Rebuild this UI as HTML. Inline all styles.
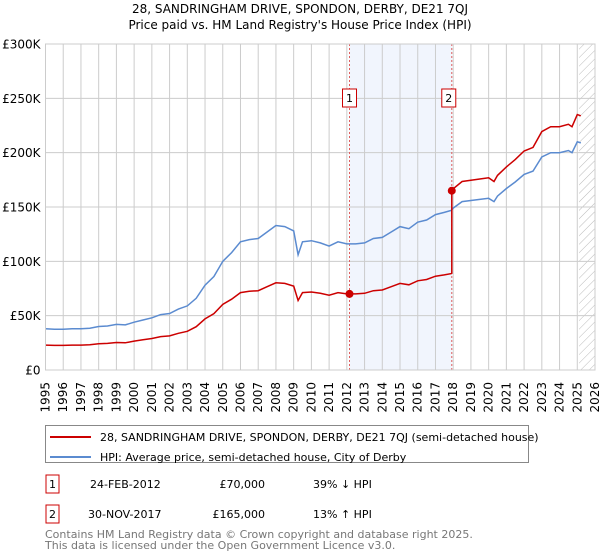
<!DOCTYPE html>
<html><head><meta charset="utf-8"><style>
body{margin:0;width:600px;height:560px;background:#fff;font-family:"DejaVu Sans","Liberation Sans",sans-serif;overflow:hidden}
svg{position:absolute;left:0;top:0}
</style></head><body>
<svg id="c" width="600" height="560">
<defs><pattern id="hatch" width="6" height="6" patternUnits="userSpaceOnUse" patternTransform="rotate(45)"><line x1="0" y1="0" x2="0" y2="6" stroke="#bbb" stroke-width="1"/></pattern></defs>
<text x="300" y="13" text-anchor="middle" font-size="12">28, SANDRINGHAM DRIVE, SPONDON, DERBY, DE21 7QJ</text>
<text x="300" y="29" text-anchor="middle" font-size="12">Price paid vs. HM Land Registry's House Price Index (HPI)</text>
<g id="plot"></g>
<rect x="45.5" y="425.5" width="483" height="37" fill="none" stroke="#888"/>
<line x1="50" y1="437" x2="91" y2="437" stroke="#cc0000" stroke-width="2"/>
<text x="100" y="441" font-size="11">28, SANDRINGHAM DRIVE, SPONDON, DERBY, DE21 7QJ (semi-detached house)</text>
<line x1="50" y1="457" x2="91" y2="457" stroke="#5b8bd0" stroke-width="2"/>
<text x="100" y="461" font-size="11">HPI: Average price, semi-detached house, City of Derby</text>
<g font-size="11">
<rect x="46" y="475" width="13" height="18" fill="none" stroke="#cc0000"/>
<text x="52.5" y="488" text-anchor="middle">1</text>
<text x="90" y="488">24-FEB-2012</text>
<text x="265" y="488" text-anchor="end">£70,000</text>
<text x="313" y="488">39% ↓ HPI</text>
<rect x="46" y="505" width="13" height="18" fill="none" stroke="#cc0000"/>
<text x="52.5" y="518" text-anchor="middle">2</text>
<text x="88" y="518">30-NOV-2017</text>
<text x="265" y="518" text-anchor="end">£165,000</text>
<text x="313" y="518">13% ↑ HPI</text>
</g>
<text x="45" y="538" font-size="11" fill="#777">Contains HM Land Registry data © Crown copyright and database right 2025.</text>
<text x="45" y="549" font-size="11" fill="#777">This data is licensed under the Open Government Licence v3.0.</text>
</svg>
<script>
const hpiYears=[1995,1995.5,1996,1996.5,1997,1997.5,1998,1998.5,1999,1999.5,2000,2000.5,2001,2001.5,2002,2002.5,2003,2003.5,2004,2004.5,2005,2005.5,2006,2006.5,2007,2007.5,2008,2008.5,2009,2009.25,2009.5,2010,2010.5,2011,2011.5,2012,2012.5,2013,2013.5,2014,2014.5,2015,2015.5,2016,2016.5,2017,2017.5,2017.9,2018,2018.5,2019,2019.5,2020,2020.3,2020.5,2021,2021.5,2022,2022.5,2023,2023.5,2024,2024.5,2024.7,2025,2025.2];
const hpiValues=[38,37.5,37.5,38,38,38.5,40,40.5,42,41.5,44,46,48,51,52,56,59,66,78,86,100,108,118,120,121,127,133,132,128,106,118,119,117,114,118,116,116,117,121,122,127,132,130,136,138,143,145,147,149,155,156,157,158,155,160,167,173,180,183,196,200,200,202,200,210,209];
const saleYears=[2012.15,2017.92];
const salePrices=[70,165];
const yTicks=[0,50,100,150,200,250,300];
const yTickLabels=["£0","£50K","£100K","£150K","£200K","£250K","£300K"];
const xTicks=[1995,1996,1997,1998,1999,2000,2001,2002,2003,2004,2005,2006,2007,2008,2009,2010,2011,2012,2013,2014,2015,2016,2017,2018,2019,2020,2021,2022,2023,2024,2025,2026];

const X0=45.5,X1=595,Y0=370,Y1=44;
const xs=v=>X0+(v-1995)/(2026-1995)*(X1-X0);
const ys=v=>Y0-(v/300)*(Y0-Y1);
const NS="http://www.w3.org/2000/svg";
const g=document.getElementById('plot');
function mk(t,a){const e=document.createElementNS(NS,t);for(const k in a)e.setAttribute(k,a[k]);g.appendChild(e);return e;}
function interp(y){for(let i=1;i<hpiYears.length;i++){if(y<=hpiYears[i]){const t=(y-hpiYears[i-1])/(hpiYears[i]-hpiYears[i-1]);return hpiValues[i-1]+t*(hpiValues[i]-hpiValues[i-1]);}}return hpiValues[hpiValues.length-1];}

let e=mk('rect',{x:xs(saleYears[0]),y:Y1,width:xs(saleYears[1])-xs(saleYears[0]),height:Y0-Y1,fill:'#eef3fc',opacity:0.8});


e=mk('rect',{x:xs(2025.1),y:Y1,width:X1-xs(2025.1),height:Y0-Y1,fill:'url(#hatch)'});


xTicks.forEach(t=>{
  const l=mk('line',{x1:xs(t),x2:xs(t),y1:Y1,y2:Y0,stroke:'#ccc','stroke-width':1});
  
  
  const tx=mk('text',{x:0,y:0,'font-size':12,'text-anchor':'end','dominant-baseline':'central',transform:`translate(${xs(t)},${Y0+12}) rotate(-90)`});
  tx.textContent=t;
  
  
});
yTicks.forEach((t,i)=>{
  const l=mk('line',{x1:X0,x2:X1,y1:ys(t),y2:ys(t),stroke:'#ccc','stroke-width':1});
  
  
  const tx=mk('text',{x:X0-5,y:ys(t)+4.5,'font-size':12,'text-anchor':'end'});
  tx.textContent=yTickLabels[i];
  
  
});
saleYears.forEach((s,i)=>{
  const l=mk('line',{x1:xs(s),x2:xs(s),y1:Y1,y2:Y0,stroke:'#e06060','stroke-width':1,'stroke-dasharray':'2,2'});
  
  
  const r=mk('rect',{x:xs(s)-7-(i?3:0),y:89,width:14,height:18,fill:'#fff',stroke:'#cc0000'});
  
  
  const t=mk('text',{x:xs(s)-(i?3:0),y:102,'font-size':11,'text-anchor':'middle'});
  t.textContent=i+1;
  
  
});
// HPI line
let d=hpiYears.map((y,i)=>(i?'L':'M')+xs(y).toFixed(1)+','+ys(hpiValues[i]).toFixed(1)).join(' ');
e=mk('path',{d:d,fill:'none',stroke:'#5b8bd0','stroke-width':1.5});


// Property line: HPI indexed from each sale price
const r0=salePrices[0]/interp(saleYears[0]), r1=salePrices[1]/interp(saleYears[1]);
let pts=[];
hpiYears.forEach((y,i)=>{ if(y<saleYears[1]) pts.push([y,hpiValues[i]*r0]); });
pts.push([saleYears[1],interp(saleYears[1])*r0]);
pts.push([saleYears[1],salePrices[1]]);
hpiYears.forEach((y,i)=>{ if(y>saleYears[1]) pts.push([y,hpiValues[i]*r1]); });
d=pts.map((p,i)=>(i?'L':'M')+xs(p[0]).toFixed(1)+','+ys(p[1]).toFixed(1)).join(' ');
e=mk('path',{d:d,fill:'none',stroke:'#cc0000','stroke-width':1.5});


saleYears.forEach((s,i)=>{
  const c=mk('circle',{cx:xs(s),cy:ys(salePrices[i]),r:4,fill:'#cc0000'});
  
  
});
e=mk('rect',{x:X0,y:Y1,width:X1-X0,height:Y0-Y1,fill:'none',stroke:'#ccc'});


</script>
</body></html>
